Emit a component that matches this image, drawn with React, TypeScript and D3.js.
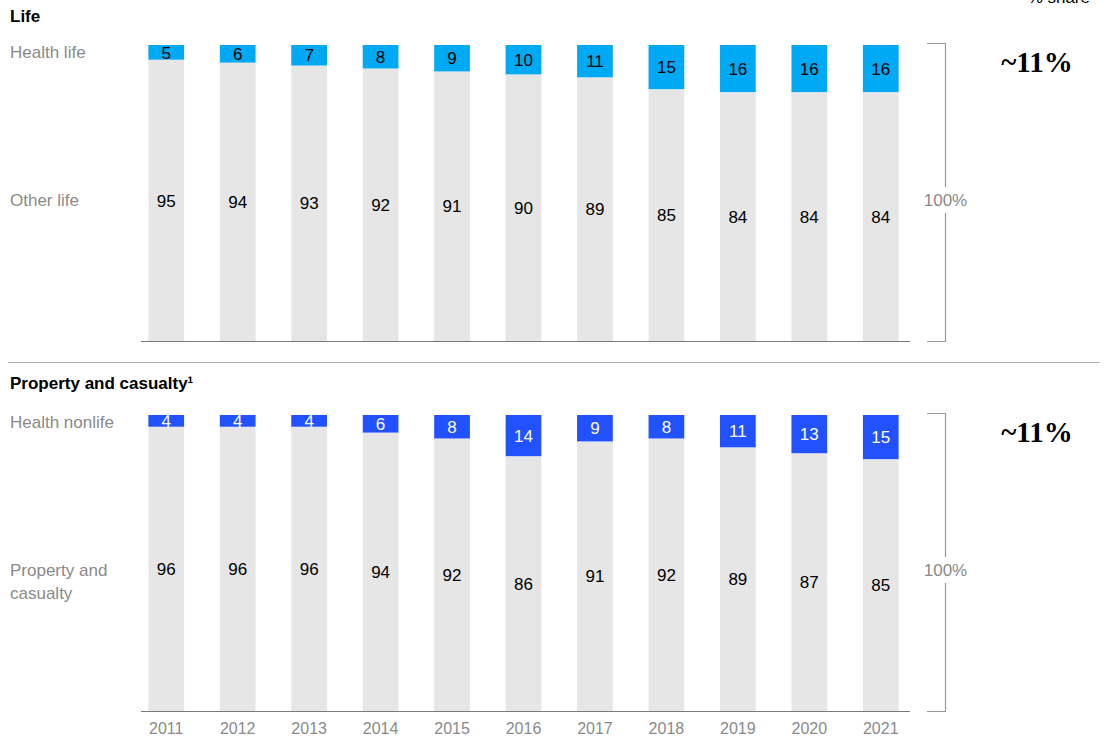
import React from "react";
import * as d3 from "d3";

const years = ["2011","2012","2013","2014","2015","2016","2017","2018","2019","2020","2021"];
const healthLife = [5,6,7,8,9,10,11,15,16,16,16];
const otherLife = [95,94,93,92,91,90,89,85,84,84,84];
const healthNonlife = [4,4,4,6,8,14,9,8,11,13,15];
const propertyCasualty = [96,96,96,94,92,86,91,92,89,87,85];

const W = 1106, H = 740;
const FONT = "'Liberation Sans', Arial, Helvetica, sans-serif";

const x = d3.scaleBand<string>().domain(years).range([130.5, 916.5]).paddingInner(0.5).paddingOuter(0.25);

function Panel({ top, bottom, healthVals, otherVals, healthColor, healthText, title, titleY, healthLabel, otherLabel, showYears }: any) {
  const y = d3.scaleLinear().domain([0, 100]).range([top, bottom]);
  const bx = 945.5;
  const midY = top + 155;
  return (
    <g>
      <text x={10} y={titleY} fontSize={17} fontWeight={700} fill="#000" fontFamily={FONT}>{title}</text>
      <text x={10} y={top + 13} fontSize={17} fill="#8a8a8a" fontFamily={FONT}>{healthLabel}</text>
      {otherLabel.map((l: string, i: number) => (
        <text key={i} x={10} y={top + 161 + i * 23} fontSize={17} fill="#8a8a8a" fontFamily={FONT}>{l}</text>
      ))}
      {years.map((yr, i) => {
        const h = healthVals[i];
        const o = otherVals[i];
        const x0 = x(yr)!;
        const bw = x.bandwidth();
        const cx = x0 + bw / 2;
        return (
          <g key={yr}>
            <rect x={x0} y={y(0)} width={bw} height={y(h) - y(0)} fill={healthColor} />
            <rect x={x0} y={y(h)} width={bw} height={y(100) - y(h)} fill="#e6e6e6" />
            <text x={cx} y={(y(0) + y(h)) / 2} dy="0.36em" textAnchor="middle" fontSize={17} fill={healthText} fontFamily={FONT}>{h}</text>
            <text x={cx} y={(y(h) + y(100)) / 2} dy="0.36em" textAnchor="middle" fontSize={17} fill="#000" fontFamily={FONT}>{o}</text>
            {showYears && <text x={cx} y={bottom + 23} textAnchor="middle" fontSize={16} fill="#8a8a8a" fontFamily={FONT}>{yr}</text>}
          </g>
        );
      })}
      <line x1={141} x2={910} y1={bottom + 0.5} y2={bottom + 0.5} stroke="#7a7a7a" strokeWidth={1.2} />
      <path d={`M927,${top - 1.5}H${bx}V${bottom + 0.5}H927`} fill="none" stroke="#9a9a9a" strokeWidth={1.2} />
      <rect x={918} y={midY - 13} width={55} height={26} fill="#fff" />
      <text x={bx} y={midY} dy="0.36em" textAnchor="middle" fontSize={17} fill="#8a8a8a" fontFamily={FONT}>100%</text>
      <text x={1037} y={top + 27} textAnchor="middle" fontSize={29} fontWeight={700} fill="#000" fontFamily="'Liberation Serif', 'Times New Roman', serif">~11%</text>
    </g>
  );
}

export default function App() {
  return (
    <svg width={W} height={H} style={{ position: "absolute", left: 0, top: 0, background: "#fff" }}>
      <text x={1090} y={3} textAnchor="end" fontSize={17} fill="#000" fontFamily={FONT}>% share</text>
      <Panel top={45} bottom={341} healthVals={healthLife} otherVals={otherLife} healthColor="#00a9f4" healthText="#000"
        title="Life" titleY={22} healthLabel="Health life" otherLabel={["Other life"]} showYears={false} />
      <line x1={8} x2={1100} y1={362.5} y2={362.5} stroke="#b0b0b0" strokeWidth={1.2} />
      <Panel top={415} bottom={711} healthVals={healthNonlife} otherVals={propertyCasualty} healthColor="#2251ff" healthText="#fff"
        title="Property and casualty¹" titleY={389} healthLabel="Health nonlife" otherLabel={["Property and", "casualty"]} showYears={true} />
    </svg>
  );
}
